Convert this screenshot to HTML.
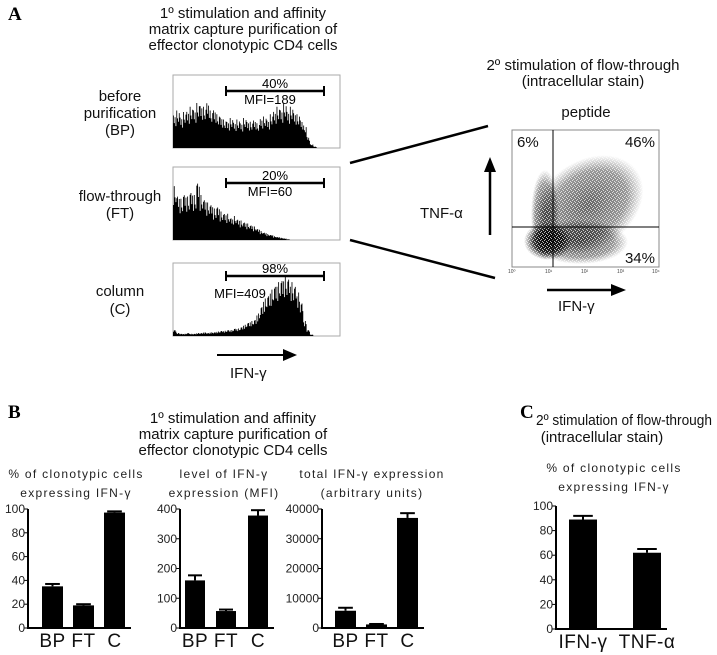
<!DOCTYPE html>
<html><head><meta charset="utf-8">
<style>
html,body{margin:0;padding:0;background:#fff;}
svg{display:block;font-family:"Liberation Sans",sans-serif;}
.t{font-size:15px;fill:#111;}
.s{font-size:12px;fill:#222;letter-spacing:1.3px;}
.tk{font-size:12px;fill:#222;}
.xl{font-size:19px;fill:#111;letter-spacing:0.5px;}
.L{font-family:"Liberation Serif",serif;font-weight:bold;font-size:19px;}
</style></head><body>
<svg id="fig" width="717" height="655" viewBox="0 0 717 655">
<text x="8" y="20" class="L">A</text>
<g text-anchor="middle">
<text x="243" y="18" class="t">1º stimulation and affinity</text>
<text x="243" y="34" class="t">matrix capture purification of</text>
<text x="243" y="50" class="t">effector clonotypic CD4 cells</text>
</g>
<g text-anchor="middle">
<text x="120" y="101" class="t" font-size="16">before</text><text x="120" y="118" class="t" font-size="16">purification</text><text x="120" y="135" class="t" font-size="16">(BP)</text>
<text x="120" y="201" class="t" font-size="16">flow-through</text><text x="120" y="218" class="t" font-size="16">(FT)</text>
<text x="120" y="296" class="t" font-size="16">column</text><text x="120" y="314" class="t" font-size="16">(C)</text>
</g>
<g id="hists"></g>
<g>
<line x1="217" y1="355" x2="285" y2="355" stroke="#000" stroke-width="2"/>
<polygon points="297,355 283,349 283,361" fill="#000"/>
<text x="230" y="378" class="t" font-size="17">IFN-γ</text>
</g>
<g stroke="#000" stroke-width="2.5">
<line x1="350" y1="163" x2="488" y2="126"/>
<line x1="350" y1="240" x2="495" y2="278"/>
</g>
<g text-anchor="middle">
<text x="583" y="70" class="t">2º stimulation of flow-through</text>
<text x="583" y="86" class="t">(intracellular stain)</text>
<text x="586" y="117" class="t">peptide</text>
</g>
<defs>
<radialGradient id="g1"><stop offset="0" stop-color="#000" stop-opacity="0.95"/><stop offset="0.6" stop-color="#000" stop-opacity="0.75"/><stop offset="1" stop-color="#000" stop-opacity="0"/></radialGradient>
<radialGradient id="g2"><stop offset="0" stop-color="#000" stop-opacity="0.6"/><stop offset="0.7" stop-color="#000" stop-opacity="0.4"/><stop offset="1" stop-color="#000" stop-opacity="0"/></radialGradient>
<pattern id="speck" width="4" height="4" patternUnits="userSpaceOnUse">
<rect x="0" y="0" width="1" height="1" fill="#fff"/><rect x="2" y="1" width="1" height="1" fill="#fff"/><rect x="1" y="3" width="1" height="1" fill="#fff"/><rect x="3" y="2" width="1" height="1" fill="#fff"/>
</pattern>
</defs>
<g>
<rect x="512" y="130" width="147" height="137" fill="#fff" stroke="#888"/>
<ellipse cx="588" cy="205" rx="60" ry="44" fill="url(#g2)" transform="rotate(-35 588 205)"/>
<ellipse cx="545" cy="215" rx="14" ry="45" fill="url(#g2)"/>
<ellipse cx="580" cy="242" rx="48" ry="22" fill="url(#g2)"/>
<ellipse cx="548" cy="241" rx="24" ry="19" fill="url(#g1)"/>
<rect x="513" y="131" width="145" height="135" fill="url(#speck)" opacity="0.7"/>
<line x1="553" y1="130" x2="553" y2="267" stroke="#000" stroke-width="1"/>
<line x1="512" y1="227" x2="659" y2="227" stroke="#000" stroke-width="1"/>
<text x="517" y="147" class="t">6%</text>
<text x="655" y="147" class="t" text-anchor="end">46%</text>
<text x="655" y="263" class="t" text-anchor="end">34%</text>
<g font-size="5" fill="#444">
<text x="508" y="273">10⁰</text><text x="545" y="273">10¹</text><text x="581" y="273">10²</text><text x="617" y="273">10³</text><text x="652" y="273">10⁴</text>
</g>
</g>
<g>
<line x1="490" y1="235" x2="490" y2="170" stroke="#000" stroke-width="2.5"/>
<polygon points="490,157 484,172 496,172" fill="#000"/>
<text x="420" y="218" class="t" font-size="18">TNF-α</text>
</g>
<g>
<line x1="547" y1="290" x2="612" y2="290" stroke="#000" stroke-width="2.5"/>
<polygon points="626,290 611,284 611,296" fill="#000"/>
<text x="558" y="311" class="t" font-size="18">IFN-γ</text>
</g>

<text x="8" y="418" class="L">B</text>
<g text-anchor="middle">
<text x="233" y="423" class="t">1º stimulation and affinity</text>
<text x="233" y="439" class="t">matrix capture purification of</text>
<text x="233" y="455" class="t">effector clonotypic CD4 cells</text>
</g>
<text x="520" y="418" class="L">C</text>
<g>
<text x="536" y="425" class="t" font-size="13.5" textLength="176" lengthAdjust="spacingAndGlyphs">2º stimulation of flow-through</text>
<text x="602" y="442" class="t" font-size="13.5" text-anchor="middle">(intracellular stain)</text>
</g>
<g id="bars"></g>
</svg>
<script>
// Histogram data (fraction of box height per bin)
const histBP=[0.45,0.5,0.42,0.48,0.5,0.55,0.52,0.6,0.58,0.55,0.62,0.5,0.52,0.45,0.42,0.38,0.36,0.4,0.35,0.38,0.34,0.4,0.36,0.35,0.38,0.33,0.4,0.42,0.38,0.45,0.5,0.55,0.52,0.6,0.5,0.55,0.48,0.45,0.38,0.3,0.15,0.05,0.02,0,0,0,0,0,0,0];
const histFT=[0.72,0.6,0.55,0.62,0.58,0.65,0.6,0.78,0.6,0.55,0.5,0.48,0.42,0.45,0.38,0.36,0.35,0.3,0.32,0.28,0.26,0.24,0.22,0.2,0.18,0.15,0.12,0.1,0.08,0.07,0.05,0.04,0.03,0.02,0.01,0,0,0,0,0,0,0,0,0,0,0,0,0,0,0];
const histC=[0.08,0.04,0.03,0.03,0.04,0.03,0.03,0.04,0.04,0.05,0.04,0.05,0.05,0.06,0.07,0.07,0.08,0.08,0.1,0.1,0.12,0.15,0.18,0.2,0.22,0.3,0.4,0.5,0.55,0.62,0.68,0.72,0.76,0.8,0.78,0.72,0.68,0.58,0.45,0.2,0.08,0.02,0,0,0,0,0,0,0,0];
const histPct=["40%","20%","98%"];
const histMFI=["MFI=189","MFI=60","MFI=409"];
// Bar chart data
const cats=["BP","FT","C"];
const pctVals=[35,19,97];const pctErr=[2,1,1];const pctTicks=[0,20,40,60,80,100];
const mfiVals=[160,57,378];const mfiErr=[17,5,18];const mfiTicks=[0,100,200,300,400];
const totVals=[5800,1200,37000];const totErr=[1000,150,1600];const totTicks=[0,10000,20000,30000,40000];
const cCats=["IFN-γ","TNF-α"];const cVals=[89,62];const cErr=[3,3];const cTicks=[0,20,40,60,80,100];

const NS="http://www.w3.org/2000/svg";
function mk(p,tag,at){const e=document.createElementNS(NS,tag);for(const k in at)e.setAttribute(k,at[k]);p.appendChild(e);return e;}
const H=document.getElementById('hists');
const hists=[histBP,histFT,histC];const tops=[75,167,263];const names=['bp','ft','c'];
const spike=[1.1,0.84,1.04,0.74,1.14,0.9,0.8,1.06];
hists.forEach((h,i)=>{
  const x0=173,x1=340,y0=tops[i],hh=73,y1=y0+hh;
  const g=mk(H,'g',{});
  
  
  mk(g,'rect',{x:x0,y:y0,width:x1-x0,height:hh,fill:'#fff',stroke:'#aaa'});
  const bw=(x1-x0)/h.length;let pts=[x0+','+y1];
  h.forEach((v,j)=>{
    for(let k=0;k<4;k++){const f=spike[(j*4+k+i*3)%spike.length];const yy=Math.max(y0+2,y1-v*hh*0.9*f);pts.push((x0+(j+k/4)*bw)+','+yy);pts.push((x0+(j+(k+1)/4)*bw)+','+yy);}
  });
  pts.push(x1+','+y1);
  mk(g,'polygon',{points:pts.join(' '),fill:'#000'});
  const gy=y0+[16,16,13][i];
  mk(g,'line',{x1:226,y1:gy,x2:324,y2:gy,stroke:'#000','stroke-width':2.5});
  mk(g,'line',{x1:226,y1:gy-5,x2:226,y2:gy+5,stroke:'#000','stroke-width':2});
  mk(g,'line',{x1:324,y1:gy-5,x2:324,y2:gy+5,stroke:'#000','stroke-width':2});
  const t=mk(g,'text',{x:275,y:gy-3,'text-anchor':'middle','font-size':13});t.textContent=histPct[i];
  const m=mk(g,'text',{x:i==2?240:270,y:i==2?gy+22:gy+13,'text-anchor':'middle','font-size':13});m.textContent=histMFI[i];
});
const B=document.getElementById('bars');
function bar(name,ax,top,bot,max,ticks,vals,err,labels,lx,bw,title,tx,xfont,ty){
  const g=mk(B,'g',{});
  
  
  const y=v=>bot-(v/max)*(bot-top);
  title.forEach((s,i)=>{const t=mk(g,'text',{x:tx,y:ty+i*19,'text-anchor':'middle',class:'s'});t.textContent=s;});
  mk(g,'line',{x1:ax,y1:top,x2:ax,y2:bot+1,stroke:'#000','stroke-width':2});
  mk(g,'line',{x1:ax,y1:bot,x2:lx[lx.length-1]+bw+6,y2:bot,stroke:'#000','stroke-width':2});
  ticks.forEach(tv=>{mk(g,'line',{x1:ax-4,y1:y(tv),x2:ax,y2:y(tv),stroke:'#000'});const t=mk(g,'text',{x:ax-3,y:y(tv)+4,'text-anchor':'end',class:'tk'});t.textContent=tv;});
  vals.forEach((v,i)=>{
    const b=mk(g,'rect',{x:lx[i],y:y(v),width:bw,height:bot-y(v),fill:'#000'});
    
    
    const cx=lx[i]+bw/2;
    mk(g,'line',{x1:cx,y1:y(v),x2:cx,y2:y(v+err[i]),stroke:'#000','stroke-width':2});
    mk(g,'line',{x1:cx-bw*0.35,y1:y(v+err[i]),x2:cx+bw*0.35,y2:y(v+err[i]),stroke:'#000','stroke-width':2});
    const t=mk(g,'text',{x:cx,y:bot+19,'text-anchor':'middle',class:'xl','font-size':xfont});t.textContent=labels[i];
  });
}
bar('bar-chart-percent',28,509,628,100,pctTicks,pctVals,pctErr,cats,[42,73,104],21,["% of clonotypic cells","expressing IFN-γ"],76,19,478);
bar('bar-chart-mfi',180,509,628,400,mfiTicks,mfiVals,mfiErr,cats,[185,216,248],20,["level of IFN-γ","expression (MFI)"],224,19,478);
bar('bar-chart-total',322,509,628,40000,totTicks,totVals,totErr,cats,[335,366,397],21,["total IFN-γ expression","(arbitrary units)"],372,19,478);
bar('bar-chart-panel-c',556,506,629,100,cTicks,cVals,cErr,cCats,[569,633],28,["% of clonotypic cells","expressing IFN-γ"],614,17,472);
</script>
</body></html>
